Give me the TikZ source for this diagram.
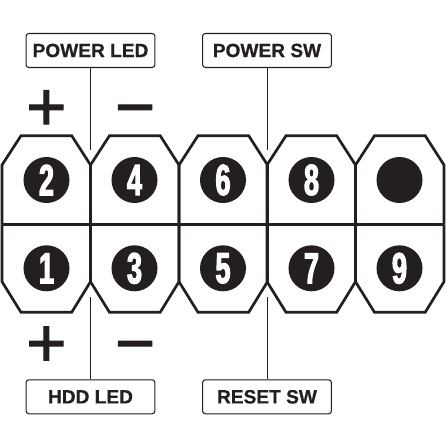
\documentclass[tikz,border=0pt]{standalone}
\usepackage{fontspec}
\setmainfont{Liberation Sans}
\newfontfamily\pinfont[FakeStretch=0.62,FakeBold=2.5]{Liberation Sans Bold}
\newfontfamily\labelfont[FakeBold=0.6]{Liberation Sans Bold}
\newfontfamily\signfont[FakeBold=1.5]{Liberation Sans}
\definecolor{inkBlack}{HTML}{231F20}
\begin{document}
\begin{tikzpicture}[
    x=0.025cm, y=-0.025cm,
    % Node Styles
    label/.style={rectangle, draw=inkBlack, line width=0.75pt, rounded corners=2pt, minimum width=3.22cm, minimum height=0.85cm, inner sep=0pt, text=inkBlack, font=\fontsize{13.6}{16}\labelfont},
    pin/.style={circle, fill=inkBlack, minimum size=1.15cm, inner sep=0pt, text=white, font=\fontsize{31}{34}\pinfont},
    sign/.style={anchor=base, inner sep=0pt, text=inkBlack, font=\fontsize{49}{50}\signfont},
    outline/.style={draw=inkBlack, line width=1.9pt, line join=miter},
    wire/.style={draw=inkBlack, line width=0.7pt}
]
\useasboundingbox (0,0) rectangle (446,446);

% =========================================================
% HOUSING
% =========================================================
\foreach \x in {2, 90.5, 179, 267, 355.5} {
    \draw[outline] (\x, 224.5) -- (\x, 165) -- (\x+19, 135.7) -- (\x+69.7, 135.7) -- (\x+88.5, 165) -- (\x+88.5, 224.5);
    \draw[outline] (\x, 224.5) -- (\x, 281.7) -- (\x+19, 312.3) -- (\x+69.7, 312.3) -- (\x+88.5, 281.7) -- (\x+88.5, 224.5);
}
\draw[outline] (2, 224.5) -- (444, 224.5);

% =========================================================
% PINS
% =========================================================
\foreach \n/\x in {2/46.5, 4/134.5, 6/223, 8/311.5} {
    \node[pin] (pin\n) at (\x, 180) {\n};
}
\node[pin] (pinBlank) at (399.5, 180) {};
\foreach \n/\x in {1/46.5, 3/134.5, 5/223, 7/311.5, 9/399.5} {
    \node[pin] (pin\n) at (\x, 268.3) {\n};
}

% =========================================================
% LABELS
% =========================================================
\node[label] (powerLed) at (90.5, 50.5) {POWER LED};
\node[label] (powerSw) at (267, 50.5) {POWER SW};
\node[label] (hddLed) at (90.5, 396.8) {HDD LED};
\node[label] (resetSw) at (267, 396.8) {RESET SW};

\coordinate (powerLedEnd) at (90.5, 150);
\coordinate (powerSwEnd) at (267, 150);
\coordinate (hddLedEnd) at (90.5, 297.3);
\coordinate (resetSwEnd) at (267, 297.3);

\draw[wire] (powerLed) -- (powerLedEnd);
\draw[wire] (powerSw) -- (powerSwEnd);
\draw[wire] (hddLed) -- (hddLedEnd);
\draw[wire] (resetSw) -- (resetSwEnd);

% =========================================================
% POLARITY
% =========================================================
\node[sign] (plusTop) at (46.3, 130.2) {+};
\node[sign] (minusTop) at (135, 130.2) {−};
\node[sign] (plusBottom) at (46.3, 366.5) {+};
\node[sign] (minusBottom) at (135, 366.5) {−};

\end{tikzpicture}
\end{document}
